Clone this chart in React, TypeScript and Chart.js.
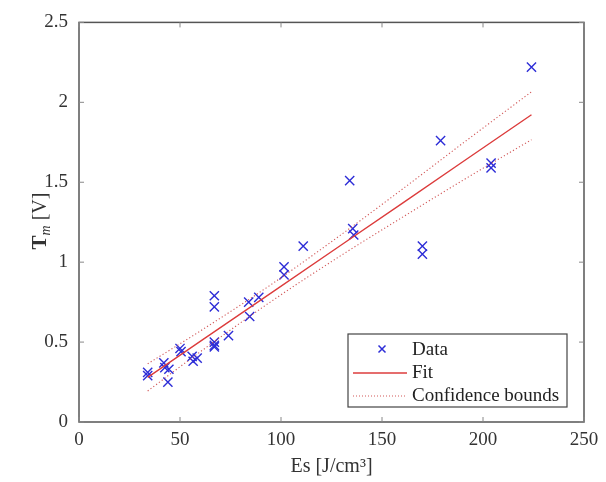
import React, { useEffect, useRef } from "react";
import { Chart, registerables } from "chart.js";

Chart.register(...registerables);

// Measured data (Es [J/cm3], Tm [V])
const dataEs = [34, 34, 42, 42.5, 44.5, 44, 50, 50.5, 56, 56.5, 58.5, 67, 67, 67, 67, 67, 74, 84, 84.5, 89, 101.5, 101.5, 111, 134, 135.5, 136, 170, 170, 179, 204, 204, 224];
const dataTm = [0.31, 0.29, 0.37, 0.34, 0.33, 0.25, 0.46, 0.44, 0.41, 0.38, 0.4, 0.79, 0.72, 0.5, 0.48, 0.47, 0.54, 0.75, 0.66, 0.78, 0.97, 0.92, 1.1, 1.51, 1.21, 1.17, 1.1, 1.05, 1.76, 1.62, 1.59, 2.22];

// Fit line and confidence bounds
const curveEs = [34, 60, 95, 130, 160, 190, 224];
const fitTm = [0.279, 0.504, 0.806, 1.109, 1.368, 1.628, 1.922];
const upperTm = [0.364, 0.569, 0.859, 1.174, 1.456, 1.744, 2.066];
const lowerTm = [0.194, 0.439, 0.753, 1.044, 1.28, 1.512, 1.766];

const xTicks = [0, 50, 100, 150, 200, 250];
const yTicks = [0, 0.5, 1, 1.5, 2, 2.5];
const legendLabels = ["Data", "Fit", "Confidence bounds"];
const xTitle = "Es [J/cm³]";

const BLUE = "rgb(45,45,215)";
const RED = "rgb(220,60,60)";
const PINK = "rgba(205,70,70,0.9)";
const FRAME = "#555";
const SERIF = "'Liberation Serif', 'Times New Roman', serif";

const toPts = (xs: number[], ys: number[]) => xs.map((x, i) => ({ x, y: ys[i] }));

const decorPlugin = {
  id: "decor",
  afterDraw(chart: any) {
    const { ctx, chartArea: a, scales } = chart;
    const xs = scales.x, ys = scales.y;
    ctx.save();
    // frame
    ctx.strokeStyle = FRAME;
    ctx.lineWidth = 1.5;
    ctx.strokeRect(a.left, a.top, a.right - a.left, a.bottom - a.top);
    // inward ticks
    ctx.lineWidth = 1;
    ctx.strokeStyle = "#888";
    const tl = 5;
    xTicks.forEach((v) => {
      const p = xs.getPixelForValue(v);
      ctx.beginPath();
      ctx.moveTo(p, a.bottom); ctx.lineTo(p, a.bottom - tl);
      ctx.moveTo(p, a.top); ctx.lineTo(p, a.top + tl);
      ctx.stroke();
    });
    yTicks.forEach((v) => {
      const p = ys.getPixelForValue(v);
      ctx.beginPath();
      ctx.moveTo(a.left, p); ctx.lineTo(a.left + tl, p);
      ctx.moveTo(a.right, p); ctx.lineTo(a.right - tl, p);
      ctx.stroke();
    });
    // x title
    ctx.fillStyle = "#333";
    ctx.font = `20px ${SERIF}`;
    ctx.textAlign = "center";
    ctx.textBaseline = "middle";
    ctx.fillText(xTitle, (a.left + a.right) / 2, 467);
    // y title: T_m [V]
    ctx.save();
    ctx.translate(39, 221);
    ctx.rotate(-Math.PI / 2);
    ctx.textAlign = "left";
    ctx.textBaseline = "alphabetic";
    const f1 = `bold 21px ${SERIF}`;
    const f2 = `italic 14px ${SERIF}`;
    const f3 = `20px ${SERIF}`;
    ctx.font = f1; const w1 = ctx.measureText("T").width;
    ctx.font = f2; const w2 = ctx.measureText("m").width;
    ctx.font = f3; const w3 = ctx.measureText(" [V]").width;
    let x0 = -(w1 + w2 + w3) / 2;
    const base = 7;
    ctx.font = f1; ctx.fillText("T", x0, base); x0 += w1;
    ctx.font = f2; ctx.fillText("m", x0, base + 4); x0 += w2;
    ctx.font = f3; ctx.fillText(" [V]", x0, base);
    ctx.restore();
    // legend
    const lx = 348, ly = 334, lw = 219, lh = 73;
    ctx.fillStyle = "#fff";
    ctx.fillRect(lx, ly, lw, lh);
    ctx.strokeStyle = "#444";
    ctx.lineWidth = 1.2;
    ctx.strokeRect(lx, ly, lw, lh);
    ctx.font = `19px ${SERIF}`;
    ctx.fillStyle = "#222";
    ctx.textAlign = "left";
    ctx.textBaseline = "middle";
    const rows = [350, 373, 396];
    legendLabels.forEach((t, i) => ctx.fillText(t, 412, rows[i]));
    // data marker
    ctx.strokeStyle = BLUE; ctx.lineWidth = 1.5;
    const mx = 382, my = rows[0] - 1, r = 3.5;
    ctx.beginPath();
    ctx.moveTo(mx - r, my - r); ctx.lineTo(mx + r, my + r);
    ctx.moveTo(mx + r, my - r); ctx.lineTo(mx - r, my + r);
    ctx.stroke();
    // fit line
    ctx.strokeStyle = RED; ctx.lineWidth = 1.3;
    ctx.beginPath(); ctx.moveTo(353, rows[1]); ctx.lineTo(407, rows[1]); ctx.stroke();
    // bounds
    ctx.strokeStyle = PINK; ctx.lineWidth = 1; ctx.setLineDash([1, 2]);
    ctx.beginPath(); ctx.moveTo(353, rows[2]); ctx.lineTo(407, rows[2]); ctx.stroke();
    ctx.restore();
  },
};

export default function App() {
  const ref = useRef<HTMLCanvasElement>(null);
  useEffect(() => {
    if (!ref.current) return;
    const chart = new Chart(ref.current, {
      type: "scatter",
      data: {
        datasets: [
          {
            label: "Confidence bounds upper",
            data: toPts(curveEs, upperTm),
            showLine: true,
            borderColor: PINK,
            borderWidth: 1.1,
            borderDash: [1.2, 2.3],
            pointRadius: 0,
            cubicInterpolationMode: "monotone",
          } as any,
          {
            label: "Confidence bounds lower",
            data: toPts(curveEs, lowerTm),
            showLine: true,
            borderColor: PINK,
            borderWidth: 1.1,
            borderDash: [1.2, 2.3],
            pointRadius: 0,
            cubicInterpolationMode: "monotone",
          } as any,
          {
            label: "Fit",
            data: toPts(curveEs, fitTm),
            showLine: true,
            borderColor: RED,
            borderWidth: 1.4,
            pointRadius: 0,
          },
          {
            label: "Data",
            data: toPts(dataEs, dataTm),
            showLine: false,
            pointStyle: "crossRot",
            pointRadius: 6.5,
            borderColor: BLUE,
            backgroundColor: BLUE,
            pointBorderWidth: 1.4,
          } as any,
        ],
      },
      options: {
        animation: false,
        responsive: false,
        layout: { padding: { top: 16, right: 22, left: 0, bottom: 0 } },
        plugins: { legend: { display: false }, tooltip: { enabled: false } },
        scales: {
          x: {
            type: "linear",
            min: 0,
            max: 250,
            afterBuildTicks: (s: any) => { s.ticks = xTicks.map((v) => ({ value: v })); },
            afterFit: (s: any) => { s.height = 60; },
            grid: { display: false, drawTicks: false },
            border: { display: false },
            ticks: { padding: 7, color: "#333", font: { family: SERIF, size: 19 }, maxRotation: 0, callback: (v: any) => String(v) },
          },
          y: {
            type: "linear",
            min: 0,
            max: 2.5,
            afterBuildTicks: (s: any) => { s.ticks = yTicks.map((v) => ({ value: v })); },
            afterFit: (s: any) => { s.width = 79; },
            grid: { display: false, drawTicks: false },
            border: { display: false },
            ticks: { padding: 11, color: "#333", font: { family: SERIF, size: 19 }, callback: (v: any) => String(v) },
          },
        },
      },
      plugins: [decorPlugin],
    });
    return () => chart.destroy();
  }, []);
  return (
    <div style={{ position: "fixed", left: 0, top: 0, width: 606, height: 482, background: "#fff" }}>
      <canvas ref={ref} width={606} height={482} />
    </div>
  );
}
